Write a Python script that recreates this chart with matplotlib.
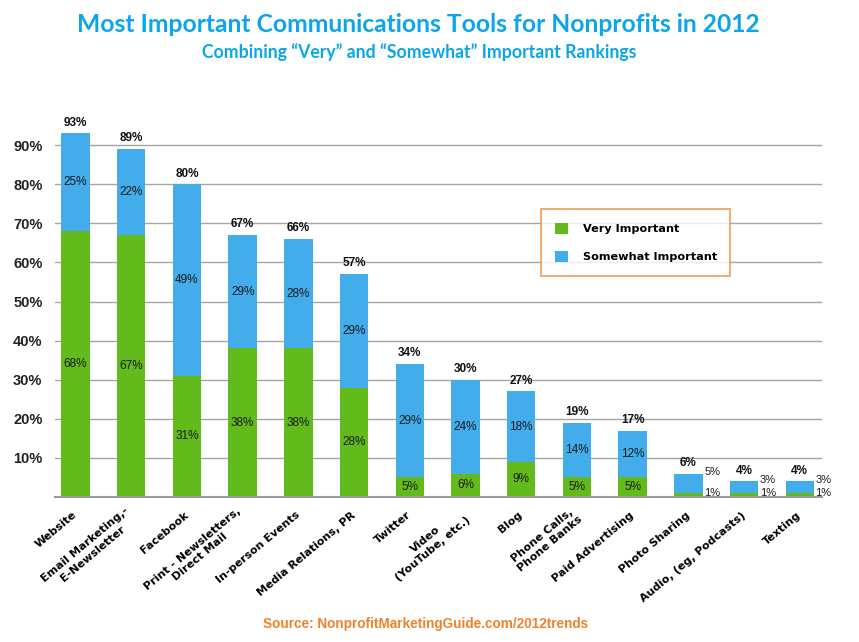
import matplotlib
matplotlib.use("Agg")
import matplotlib.pyplot as plt
from matplotlib.patches import Patch
import numpy as np

categories = ["Website", "Email Marketing,-\nE-Newsletter", "Facebook",
              "Print - Newsletters,\nDirect Mail", "In-person Events",
              "Media Relations, PR", "Twitter", "Video\n(YouTube, etc.)", "Blog",
              "Phone Calls,\nPhone Banks", "Paid Advertising", "Photo Sharing",
              "Audio, (eg, Podcasts)", "Texting"]
very_important = [68, 67, 31, 38, 38, 28, 5, 6, 9, 5, 5, 1, 1, 1]
somewhat_important = [25, 22, 49, 29, 28, 29, 29, 24, 18, 14, 12, 5, 3, 3]
totals = [93, 89, 80, 67, 66, 57, 34, 30, 27, 19, 17, 6, 4, 4]
y_ticks = [10, 20, 30, 40, 50, 60, 70, 80, 90]

GREEN = "#62BB1A"
BLUE = "#43ACEB"
TITLE_C = "#0AA5EA"
ORANGE = "#F0832A"

fig = plt.figure(figsize=(8.59, 6.42), dpi=100)
ax = fig.add_axes([55/859, 1-497/642, 767/859, 391/642])

x = np.arange(len(categories))
w = 0.51
ax.bar(x, very_important, w, color=GREEN, zorder=3, label="Very Important")
ax.bar(x, somewhat_important, w, bottom=very_important, color=BLUE, zorder=3,
       label="Somewhat Important")

ax.set_xlim(-0.368, 13.40)
ax.set_ylim(0, 100)
ax.set_yticks(y_ticks)
ax.set_yticklabels([f"{v}%" for v in y_ticks], fontsize=10.5, fontweight="bold",
                   family="Liberation Sans", color="#222222")
ax.tick_params(axis="y", length=0, pad=9)
ax.grid(axis="y", color="#A6A6A6", linewidth=1.0, zorder=0)
for s in ["top", "right", "left"]:
    ax.spines[s].set_visible(False)
ax.spines["bottom"].set_color("#9A9A9A")
ax.spines["bottom"].set_linewidth(1.5)
ax.spines["bottom"].set_zorder(4)

ax.set_xticks(x)
ax.set_xticklabels(categories, rotation=40, ha="right", va="center",
                   rotation_mode="anchor", fontsize=8, fontweight="bold",
                   family="DejaVu Sans", multialignment="center")
ax.tick_params(axis="x", length=0, pad=12)

seg_font = dict(fontsize=8.5, family=["Liberation Sans Narrow", "Liberation Sans"],
                color="#1a1a1a", zorder=5)
small_font = dict(seg_font, fontsize=8)
for i in range(len(categories)):
    v, s, t = very_important[i], somewhat_important[i], totals[i]
    if t >= 10:
        ax.text(i, v/2, f"{v}%", ha="center", va="center", **seg_font)
        ax.text(i, v + s/2, f"{s}%", ha="center", va="center", **seg_font)
    else:
        ax.text(i + w/2 + 0.03, v - 0.1, f"{v}%", ha="left", va="center", **small_font)
        ax.text(i + w/2 + 0.03, t + 0.4, f"{s}%", ha="left", va="center", **small_font)
    ax.text(i, t + 1.2, f"{t}%", ha="center", va="bottom", fontsize=8.5,
            fontweight="bold", family=["Liberation Sans Narrow", "Liberation Sans"],
            color="#111111", zorder=5)

handles = [Patch(facecolor=GREEN, edgecolor="none", label="Very Important"),
           Patch(facecolor=BLUE, edgecolor="none", label="Somewhat Important")]
leg = ax.legend(handles=handles, loc="upper left",
                bbox_to_anchor=((541-55)/767, (497-209)/391), frameon=True,
                fancybox=False, edgecolor=ORANGE, handlelength=1.2,
                handleheight=1.2, handletextpad=1.3, labelspacing=1.5,
                borderpad=1.2, borderaxespad=0,
                prop=dict(family="DejaVu Sans", weight="bold", size=8.1))
leg.get_frame().set_linewidth(1.2)
leg.set_zorder(6)

fig.text(418/859, 1-25/642, "Most Important Communications Tools for Nonprofits in 2012",
         ha="center", va="center", fontsize=17.7, fontweight="bold", family="Lato",
         color=TITLE_C)
fig.text(419/859, 1-52/642, "Combining \u201cVery\u201d and \u201cSomewhat\u201d Important Rankings",
         ha="center", va="center", fontsize=12.7, fontweight="bold", family="Lato",
         color=TITLE_C)
fig.text(426/859, 1-624/642, "Source: NonprofitMarketingGuide.com/2012trends",
         ha="center", va="center", fontsize=9.8, fontweight="bold",
         family="Liberation Sans", color=ORANGE)

fig.savefig("out.png", dpi=100)
